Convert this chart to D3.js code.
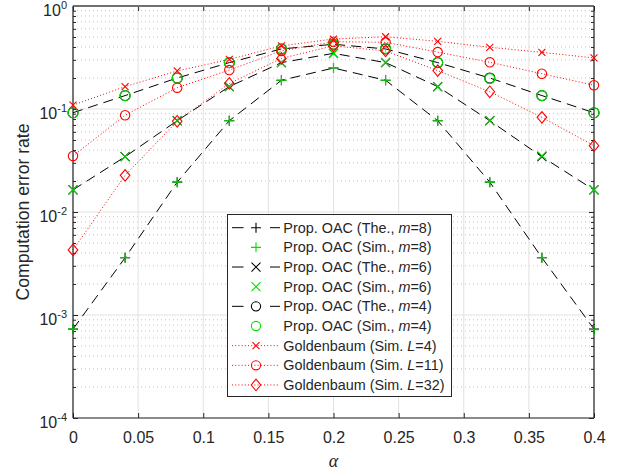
<!DOCTYPE html>
<html><head><meta charset="utf-8">
<script src="https://cdn.jsdelivr.net/npm/d3@7"></script>
<style>body{margin:0;background:#fff}svg{display:block}</style>
</head><body><svg id="c" width="620" height="472"></svg>
<script>
const alpha = [0, 0.04, 0.08, 0.12, 0.16, 0.2, 0.24, 0.28, 0.32, 0.36, 0.4];
const xTickValues = [0, 0.05, 0.1, 0.15, 0.2, 0.25, 0.3, 0.35, 0.4];
const xTickLabels = ["0", "0.05", "0.1", "0.15", "0.2", "0.25", "0.3", "0.35", "0.4"];
const yTickExponents = [0, -1, -2, -3, -4];

const theoryM8 = [7.3e-4, 3.6e-3, 0.0195, 0.077, 0.19, 0.25, 0.19, 0.077, 0.0195, 3.6e-3, 7.3e-4];
const simM8    = [7.3e-4, 3.6e-3, 0.0195, 0.077, 0.19, 0.25, 0.19, 0.077, 0.0195, 3.6e-3, 7.2e-4];
const theoryM6 = [0.0164, 0.0344, 0.077, 0.165, 0.282, 0.347, 0.282, 0.165, 0.077, 0.0344, 0.0164];
const simM6    = [0.0164, 0.0344, 0.077, 0.165, 0.282, 0.347, 0.284, 0.164, 0.077, 0.035, 0.0164];
const theoryM4 = [0.092, 0.135, 0.2, 0.282, 0.383, 0.425, 0.383, 0.282, 0.2, 0.135, 0.092];
const simM4    = [0.092, 0.135, 0.2, 0.282, 0.383, 0.425, 0.388, 0.284, 0.197, 0.135, 0.092];
const goldL4   = [0.109, 0.165, 0.234, 0.303, 0.41, 0.478, 0.503, 0.454, 0.397, 0.355, 0.313];
const goldL11  = [0.035, 0.087, 0.161, 0.239, 0.366, 0.45, 0.444, 0.357, 0.284, 0.22, 0.17];
const goldL32  = [0.00428, 0.0227, 0.076, 0.177, 0.31, 0.41, 0.366, 0.236, 0.147, 0.083, 0.044];

const legendLabels = [
  ["Prop. OAC (The., ", "m", "=8)"],
  ["Prop. OAC (Sim., ", "m", "=8)"],
  ["Prop. OAC (The., ", "m", "=6)"],
  ["Prop. OAC (Sim., ", "m", "=6)"],
  ["Prop. OAC (The., ", "m", "=4)"],
  ["Prop. OAC (Sim., ", "m", "=4)"],
  ["Goldenbaum (Sim. ", "L", "=4)"],
  ["Goldenbaum (Sim. ", "L", "=11)"],
  ["Goldenbaum (Sim. ", "L", "=32)"]
];
const xLabel = "α";
const yLabel = "Computation error rate";

const GREEN = "#00e000", RED = "#ff0000", BLACK = "#000000", AX = "#262626";
const series = [
  {y: theoryM8, line: "dash", color: BLACK, marker: "plus", ms: 5},
  {y: simM8, line: null, color: GREEN, marker: "plus", ms: 5},
  {y: theoryM6, line: "dash", color: BLACK, marker: "x", ms: 4.5},
  {y: simM6, line: null, color: GREEN, marker: "x", ms: 4.5},
  {y: theoryM4, line: "dash", color: BLACK, marker: "circle", ms: 5},
  {y: simM4, line: null, color: GREEN, marker: "circle", ms: 5},
  {y: goldL4, line: "dot", color: RED, marker: "x", ms: 3.5},
  {y: goldL11, line: "dot", color: RED, marker: "circle", ms: 4.7},
  {y: goldL32, line: "dot", color: RED, marker: "diamond", ms: 4.8}
];

const svg = d3.select("#c");
const L = 73, R = 594, T = 6, B = 418;
const x = d3.scaleLinear().domain([0, 0.4]).range([L, R]);
const y = d3.scaleLog().domain([1e-4, 1]).range([B, T]);

const minorVals = [];
for (let e = -4; e < 0; e++) for (let k = 2; k <= 9; k++) minorVals.push(k * Math.pow(10, e));
const majorVals = yTickExponents.map(e => Math.pow(10, e));

// grid
const g = svg.append("g");
g.selectAll(".mg").data(minorVals).join("line")
  .attr("x1", L).attr("x2", R).attr("y1", d => y(d)).attr("y2", d => y(d))
  .attr("stroke", "#c4c4c4").attr("stroke-width", 1).attr("stroke-dasharray", "1,3");
g.selectAll(".vg").data(xTickValues).join("line")
  .attr("x1", d => x(d)).attr("x2", d => x(d)).attr("y1", T).attr("y2", B)
  .attr("stroke", "#e2e2e2").attr("stroke-width", 1);
g.selectAll(".hg").data(majorVals).join("line")
  .attr("x1", L).attr("x2", R).attr("y1", d => y(d)).attr("y2", d => y(d))
  .attr("stroke", "#e2e2e2").attr("stroke-width", 1);

// axes using d3 axis generators
const fontTick = "16px 'Liberation Sans', Arial, Helvetica, sans-serif";
const xAxisB = svg.append("g").attr("transform", `translate(0,${B})`)
  .call(d3.axisBottom(x).tickValues(xTickValues).tickFormat((d, i) => xTickLabels[i])
    .tickSizeInner(-5).tickSizeOuter(0).tickPadding(13.6));
const xAxisT = svg.append("g").attr("transform", `translate(0,${T})`)
  .call(d3.axisTop(x).tickValues(xTickValues).tickFormat("").tickSizeInner(-5).tickSizeOuter(0));
const yAxisL = svg.append("g").attr("transform", `translate(${L},0)`)
  .call(d3.axisLeft(y).tickValues(majorVals).tickFormat("").tickSizeInner(-5).tickSizeOuter(0));
const yAxisR = svg.append("g").attr("transform", `translate(${R},0)`)
  .call(d3.axisRight(y).tickValues(majorVals).tickFormat("").tickSizeInner(-5).tickSizeOuter(0));
const yMinL = svg.append("g").attr("transform", `translate(${L},0)`)
  .call(d3.axisLeft(y).tickValues(minorVals).tickFormat("").tickSizeInner(-3).tickSizeOuter(0));
const yMinR = svg.append("g").attr("transform", `translate(${R},0)`)
  .call(d3.axisRight(y).tickValues(minorVals).tickFormat("").tickSizeInner(-3).tickSizeOuter(0));
[xAxisB, xAxisT, yAxisL, yAxisR, yMinL, yMinR].forEach(a => {
  a.selectAll(".domain").remove();
  a.selectAll("line").attr("stroke", AX).attr("stroke-width", 1);
  a.selectAll("text").attr("fill", AX).style("font", fontTick);
});

// frame
svg.append("line").attr("x1", L).attr("x2", R).attr("y1", T).attr("y2", T).attr("stroke", "#707070").attr("stroke-width", 2);
svg.append("line").attr("x1", L).attr("x2", R).attr("y1", B).attr("y2", B).attr("stroke", AX).attr("stroke-width", 1.2);
svg.append("line").attr("x1", L).attr("x2", L).attr("y1", T).attr("y2", B).attr("stroke", AX).attr("stroke-width", 1.2);
svg.append("line").attr("x1", R).attr("x2", R).attr("y1", T).attr("y2", B).attr("stroke", AX).attr("stroke-width", 1.2);

// y tick labels 10^e
const yl = svg.append("g");
yTickExponents.forEach(e => {
  const t = yl.append("text").attr("x", 67).attr("y", y(Math.pow(10, e)) + 10)
    .attr("text-anchor", "end").attr("fill", AX)
    .style("font-family", "'Liberation Sans', Arial, sans-serif").style("font-size", "16px");
  t.append("tspan").text("10");
  t.append("tspan").attr("dy", -7).style("font-size", "11px").text(String(e));
});

// labels
svg.append("text").attr("x", (L + R) / 2).attr("y", 467).attr("text-anchor", "middle")
  .attr("fill", AX).style("font-family", "'Liberation Serif', 'Times New Roman', serif")
  .style("font-style", "italic").style("font-size", "18px").text(xLabel);
svg.append("text").attr("transform", `translate(28.5,${(T + B) / 2}) rotate(-90)`)
  .attr("text-anchor", "middle").attr("fill", AX)
  .style("font-family", "'Liberation Sans', Arial, sans-serif").style("font-size", "17.6px").text(yLabel);

// markers
function drawMarker(sel, type, cx, cy, s, color) {
  if (type === "plus") {
    sel.append("path").attr("d", `M${cx - s},${cy}H${cx + s}M${cx},${cy - s}V${cy + s}`)
      .attr("stroke", color).attr("stroke-width", 1.1).attr("fill", "none");
  } else if (type === "x") {
    sel.append("path").attr("d", `M${cx - s},${cy - s}L${cx + s},${cy + s}M${cx - s},${cy + s}L${cx + s},${cy - s}`)
      .attr("stroke", color).attr("stroke-width", 1.1).attr("fill", "none");
  } else if (type === "circle") {
    sel.append("circle").attr("cx", cx).attr("cy", cy).attr("r", s)
      .attr("stroke", color).attr("stroke-width", 1.1).attr("fill", "none");
  } else if (type === "diamond") {
    const h = s * 1.2;
    sel.append("path").attr("d", `M${cx},${cy - h}L${cx + s},${cy}L${cx},${cy + h}L${cx - s},${cy}Z`)
      .attr("stroke", color).attr("stroke-width", 1.1).attr("fill", "none");
  }
}
const dashArr = {dash: "10,6", dot: "1,2.2"};
const lineGen = d3.line().x((d, i) => x(alpha[i])).y(d => y(d));
const plotG = svg.append("g");
const order = [0, 2, 4, 1, 3, 5, 6, 7, 8];
order.forEach(k => {
  const s = series[k];
  if (s.line) {
    plotG.append("path").datum(s.y).attr("d", lineGen).attr("fill", "none")
      .attr("stroke", s.color).attr("stroke-width", 1).attr("stroke-dasharray", dashArr[s.line]);
  }
  s.y.forEach((v, i) => drawMarker(plotG, s.marker, x(alpha[i]), y(v), s.ms, s.color));
});

// legend
const lg = svg.append("g");
lg.append("rect").attr("x", 227.5).attr("y", 214.5).attr("width", 224).attr("height", 182)
  .attr("fill", "#fff").attr("stroke", AX).attr("stroke-width", 1);
legendLabels.forEach((lab, i) => {
  const cy = 227.7 + i * 19.66;
  const s = series[i];
  if (s.line) {
    lg.append("line").attr("x1", 232).attr("x2", 280).attr("y1", cy).attr("y2", cy)
      .attr("stroke", s.color).attr("stroke-width", 1)
      .attr("stroke-dasharray", s.line === "dash" ? "11.5,26.5" : dashArr.dot);
  }
  drawMarker(lg, s.marker, 256, cy, s.marker === "circle" ? 4.6 : s.ms, s.color);
  const t = lg.append("text").attr("x", 283.3).attr("y", cy + 5).attr("fill", AX)
    .style("font-family", "'Liberation Sans', Arial, sans-serif").style("font-size", "14.4px");
  t.append("tspan").text(lab[0]);
  t.append("tspan").style("font-style", "italic").text(lab[1]);
  t.append("tspan").text(lab[2]);
});
</script></body></html>
